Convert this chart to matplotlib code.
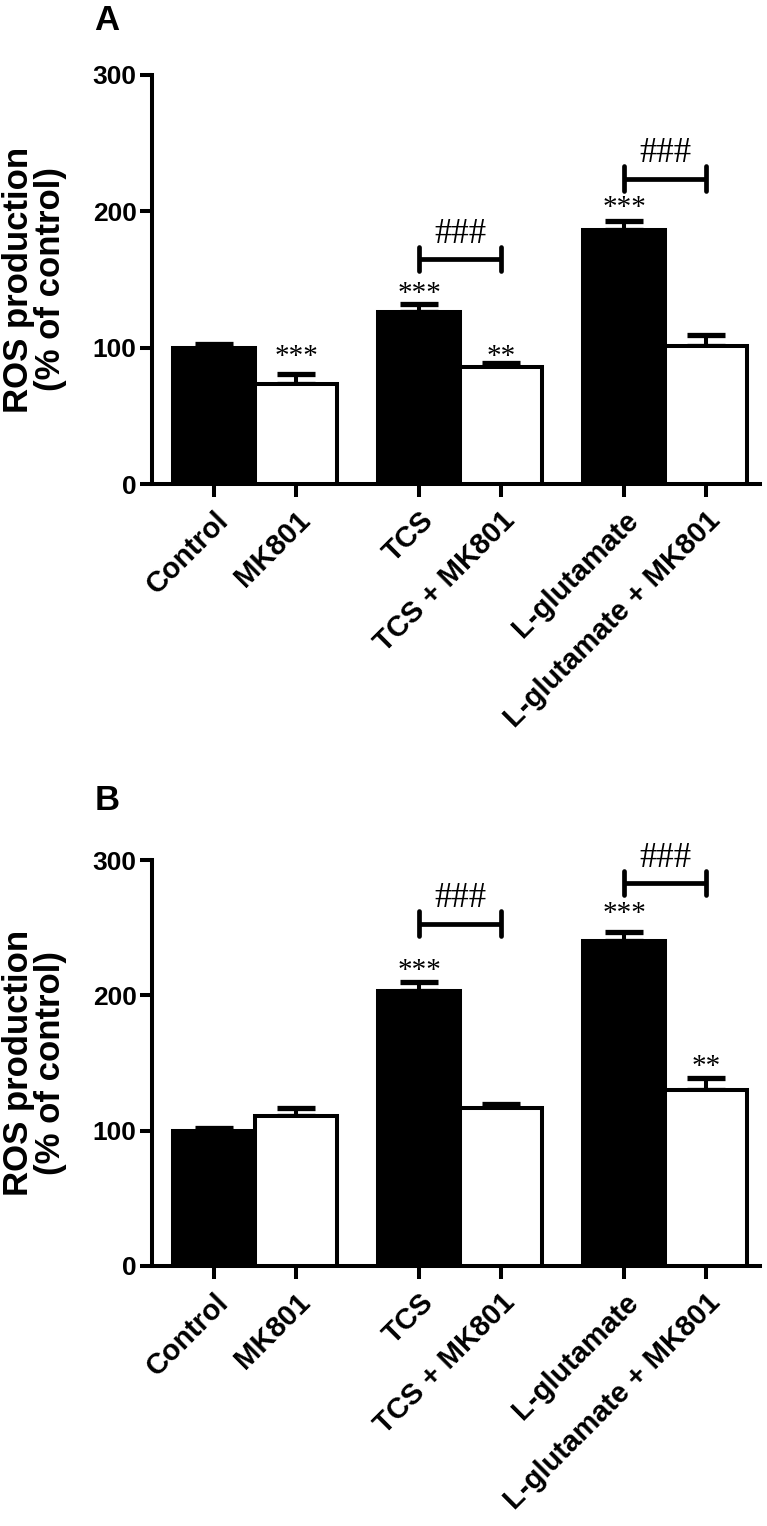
import matplotlib
matplotlib.use("Agg")
import matplotlib.pyplot as plt
import numpy as np

# groups and values (% of control)
categories = ["Control", "MK801", "TCS", "TCS + MK801", "L-glutamate", "L-glutamate + MK801"]
bar_colors = ["black", "white", "black", "white", "black", "white"]

a_means = [100, 73, 126, 86, 186, 101]
a_err = [3, 8, 6, 3, 7, 8]
b_means = [100, 111, 203, 117, 240, 130]
b_err = [2, 6, 7, 3, 6.5, 9]

# significance marks: (bar index, text) vs control, (pair, text) for brackets
a_stars = [(1, "***"), (2, "***"), (3, "**"), (4, "***")]
b_stars = [(2, "***"), (4, "***"), (5, "**")]
hash_pairs = [(2, 3), (4, 5)]

# layout for marks (baseline heights in data units)
a_star_y = [88, 134, 88, 197]
b_star_y = [213, 255, 142]
a_bracket_y = [165, 224]
b_bracket_y = [253, 283]

x = np.array([0, 1, 2.5, 3.5, 5, 6])
LW = 2.9
label_font = ["Liberation Sans", "DejaVu Sans"]
mark_font = ["Liberation Serif", "DejaVu Serif"]

fig = plt.figure(figsize=(7.67, 15.26), dpi=100)
axA = fig.add_axes([0.198, 0.6828, 0.793, 0.2681])
axB = fig.add_axes([0.198, 0.1704, 0.793, 0.2660])


def panel(ax, means, errs, stars, star_y, bracket_y, letter, lx, ly):
    ax.bar(x, means, width=1.0, color=bar_colors, edgecolor="black", linewidth=LW, zorder=3)
    ax.errorbar(x, means, yerr=[np.zeros(len(errs)), errs], fmt="none", ecolor="black",
                elinewidth=LW, capsize=14, capthick=3.8, zorder=2)
    ax.set_xlim(-0.76, 6.66)
    ax.set_ylim(0, 300)
    ax.set_yticks([0, 100, 200, 300])
    ax.set_xticks(x)
    ax.set_xticklabels(categories, rotation=45, ha="right", rotation_mode="anchor",
                       fontsize=21, fontweight="bold", family=label_font)
    for lab in ax.get_yticklabels():
        lab.set_family(label_font)
        lab.set_fontsize(19)
        lab.set_fontweight("bold")
    ax.tick_params(axis="both", width=LW, length=9, pad=2)
    ax.tick_params(axis="x", pad=7)
    for s in ["top", "right"]:
        ax.spines[s].set_visible(False)
    for s in ["left", "bottom"]:
        ax.spines[s].set_linewidth(LW)
    ax.set_ylabel("ROS production\n(% of control)", fontsize=25, fontweight="bold",
                  family=label_font, linespacing=0.95)
    ax.yaxis.set_label_coords(-0.14, 0.5)

    for (i, s), yy in zip(stars, star_y):
        ax.text(x[i], yy, s, ha="center", va="baseline", fontsize=21, family=mark_font)
    for (i, j), yy in zip(hash_pairs, bracket_y):
        ax.plot([x[i], x[j]], [yy, yy], color="black", lw=3.4, clip_on=False,
                solid_capstyle="butt")
        for k in (i, j):
            ax.plot([x[k], x[k]], [yy - 9, yy + 9], color="black", lw=3.4, clip_on=False,
                    solid_capstyle="round")
        ax.text((x[i] + x[j]) / 2, yy + 12, "###", ha="center", va="baseline",
                fontsize=25, family=mark_font, clip_on=False)
    fig.text(lx, ly, letter, fontsize=25, fontweight="bold", family=label_font,
             ha="left", va="baseline")


panel(axA, a_means, a_err, a_stars, a_star_y, a_bracket_y, "A", 0.123, 0.9803)
panel(axB, b_means, b_err, b_stars, b_star_y, b_bracket_y, "B", 0.124, 0.4692)

fig.savefig("out.png", dpi=100)
